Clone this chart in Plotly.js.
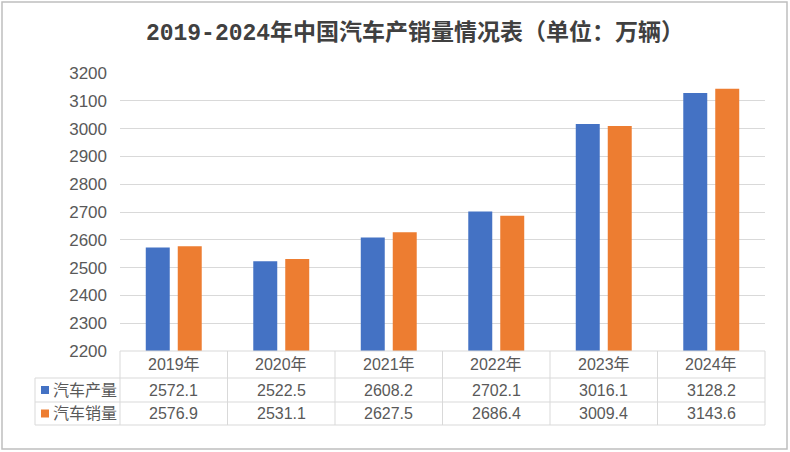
<!DOCTYPE html>
<html><head><meta charset="utf-8">
<script src="https://cdn.plot.ly/plotly-3.0.1.min.js"></script>
<style>html,body{margin:0;padding:0;background:#fff}#c{width:790px;height:452px}</style>
</head><body><div id="c"></div>
<script>
const categories = ['2019年','2020年','2021年','2022年','2023年','2024年'];
const production = [2572.1, 2522.5, 2608.2, 2702.1, 3016.1, 3128.2];
const sales = [2576.9, 2531.1, 2627.5, 2686.4, 3009.4, 3143.6];
const seriesNames = ['汽车产量','汽车销量'];
const colors = ['#4472C4','#ED7D31'];

const W=790,H=452,L=120,R=765,T=73,B=351;
const pw=R-L, ph=B-T;
const px=x=>(x-L)/pw, py=y=>(B-y)/ph;
const gridC='#d9d9d9', txtC='#595959';
const font="'Liberation Sans', 'Noto Sans CJK SC', sans-serif";
const titleFont="'Liberation Mono', 'Noto Sans CJK SC', monospace";

const shapes=[], ann=[];
const line=(x0,y0,x1,y1,c,w)=>shapes.push({type:'line',xref:'paper',yref:'paper',x0:px(x0),y0:py(y0),x1:px(x1),y1:py(y1),line:{color:c||gridC,width:w||1}});
// table
const rows=[351,378,402,425];
line(L,rows[0],R,rows[0]);
for(let i=1;i<4;i++) line(35,rows[i],R,rows[i]);
line(35,rows[1],35,rows[3]);
for(let i=0;i<=categories.length;i++){const x=L+pw*i/categories.length; line(x,rows[0],x,rows[3]);}
// outer border
shapes.push({type:'rect',xref:'paper',yref:'paper',x0:px(2),y0:py(2),x1:px(787),y1:py(449),line:{color:'#bfbfbf',width:1.5}});
// legend keys
[0,1].forEach(k=>{
  const yc=(rows[k+1]+rows[k+2])/2;
  shapes.push({type:'rect',xref:'paper',yref:'paper',x0:px(41),x1:px(49),y0:py(yc-4),y1:py(yc+4),fillcolor:colors[k],line:{width:0}});
  ann.push({xref:'paper',yref:'paper',x:px(51),y:py(yc),xanchor:'left',yanchor:'middle',text:seriesNames[k],showarrow:false,font:{family:font,size:16,color:txtC}});
});
const vals=[production,sales];
categories.forEach((c,i)=>{
  ann.push({xref:'x',yref:'paper',x:c,y:py((rows[0]+rows[1])/2),text:c,showarrow:false,yanchor:'middle',font:{family:font,size:16,color:txtC}});
  [0,1].forEach(k=>ann.push({xref:'x',yref:'paper',x:c,y:py((rows[k+1]+rows[k+2])/2),text:vals[k][i].toFixed(1),showarrow:false,yanchor:'middle',font:{family:font,size:16,color:txtC}}));
});

const data=[0,1].map(k=>({type:'bar',x:categories,y:vals[k],name:seriesNames[k],marker:{color:colors[k]},hoverinfo:'skip'}));
const layout={
  width:W,height:H,margin:{l:L,r:W-R,t:T,b:H-B},
  paper_bgcolor:'#fff',plot_bgcolor:'#fff',
  showlegend:false,barmode:'group',bargap:0.405,bargroupgap:0.25,
  title:{text:'<b>2019-2024年中国汽车产销量情况表（单位：万辆）</b>',xref:'paper',x:(415-L)/pw,xanchor:'center',y:1-32/H,yanchor:'middle',font:{family:titleFont,size:23,color:'#404040'}},
  xaxis:{showticklabels:false,showgrid:false,zeroline:false,showline:false,ticks:''},
  yaxis:{range:[2200,3200],dtick:100,tick0:2200,showgrid:true,gridcolor:gridC,gridwidth:1,zeroline:false,showline:false,ticks:'',ticklabelstandoff:12,tickfont:{family:font,size:17,color:txtC}},
  shapes:shapes,annotations:ann
};
Plotly.newPlot('c',data,layout,{displayModeBar:false,staticPlot:true});
</script></body></html>
